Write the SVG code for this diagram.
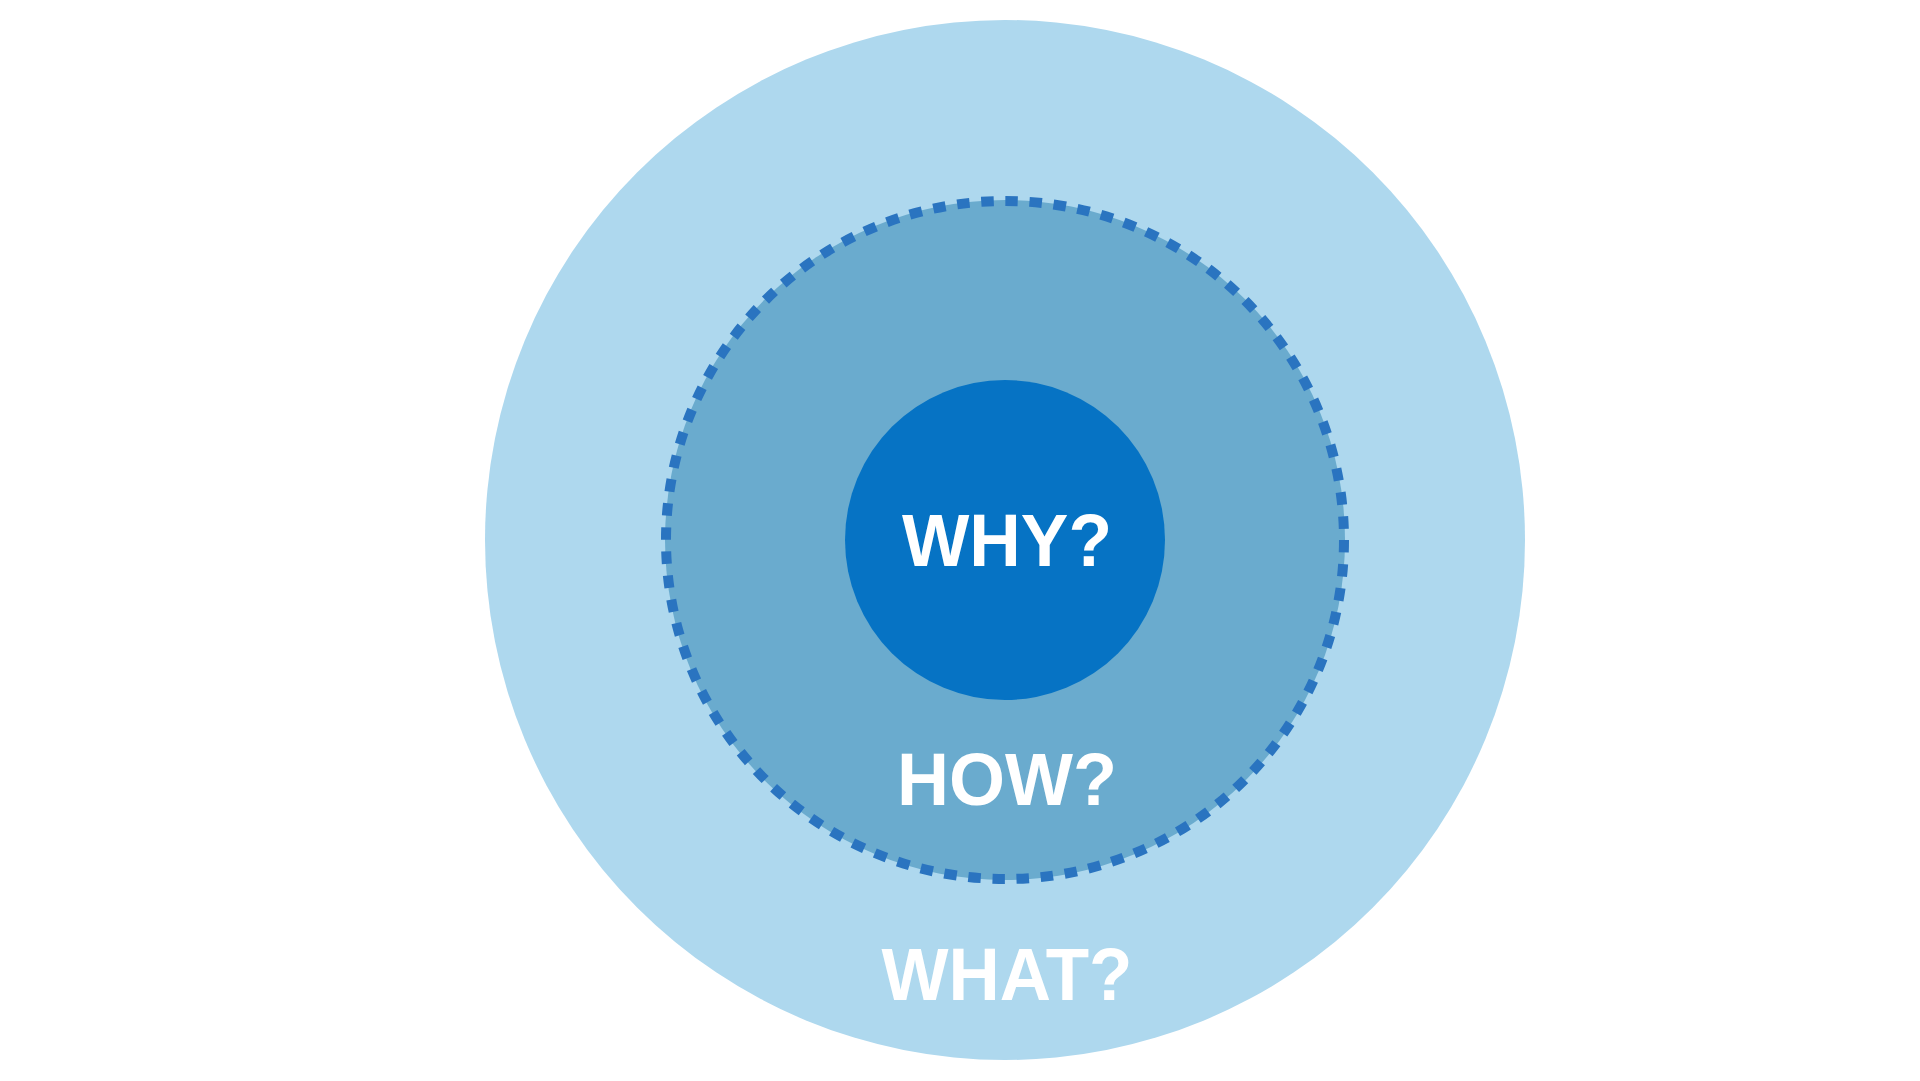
<svg xmlns="http://www.w3.org/2000/svg" width="1920" height="1081" viewBox="0 0 1920 1081">
<style>
.lbl{font-family:"Liberation Sans",Arial,Helvetica,sans-serif;font-weight:bold;font-size:75px;fill:#FFFFFF;text-anchor:middle}
</style>
<rect x="0" y="0" width="1920" height="1081" fill="#FFFFFF"/>
<g id="what">
<circle cx="1005" cy="540" r="520" fill="#AED8EE"/>
<text class="lbl" x="1007" y="1000" textLength="251" lengthAdjust="spacingAndGlyphs">WHAT?</text>
</g>
<g id="how">
<circle cx="1005" cy="540" r="340" fill="#6AABCE"/>
<circle cx="1005" cy="540" r="339" fill="none" stroke="#2A74C0" stroke-width="10" stroke-dasharray="12.5 11.7"/>
<text class="lbl" x="1007" y="805" textLength="220" lengthAdjust="spacingAndGlyphs">HOW?</text>
</g>
<g id="why">
<circle cx="1005" cy="540" r="160" fill="#0673C4"/>
<text class="lbl" x="1007" y="566" textLength="210" lengthAdjust="spacingAndGlyphs">WHY?</text>
</g>
<g id="connectors"/>
</svg>
